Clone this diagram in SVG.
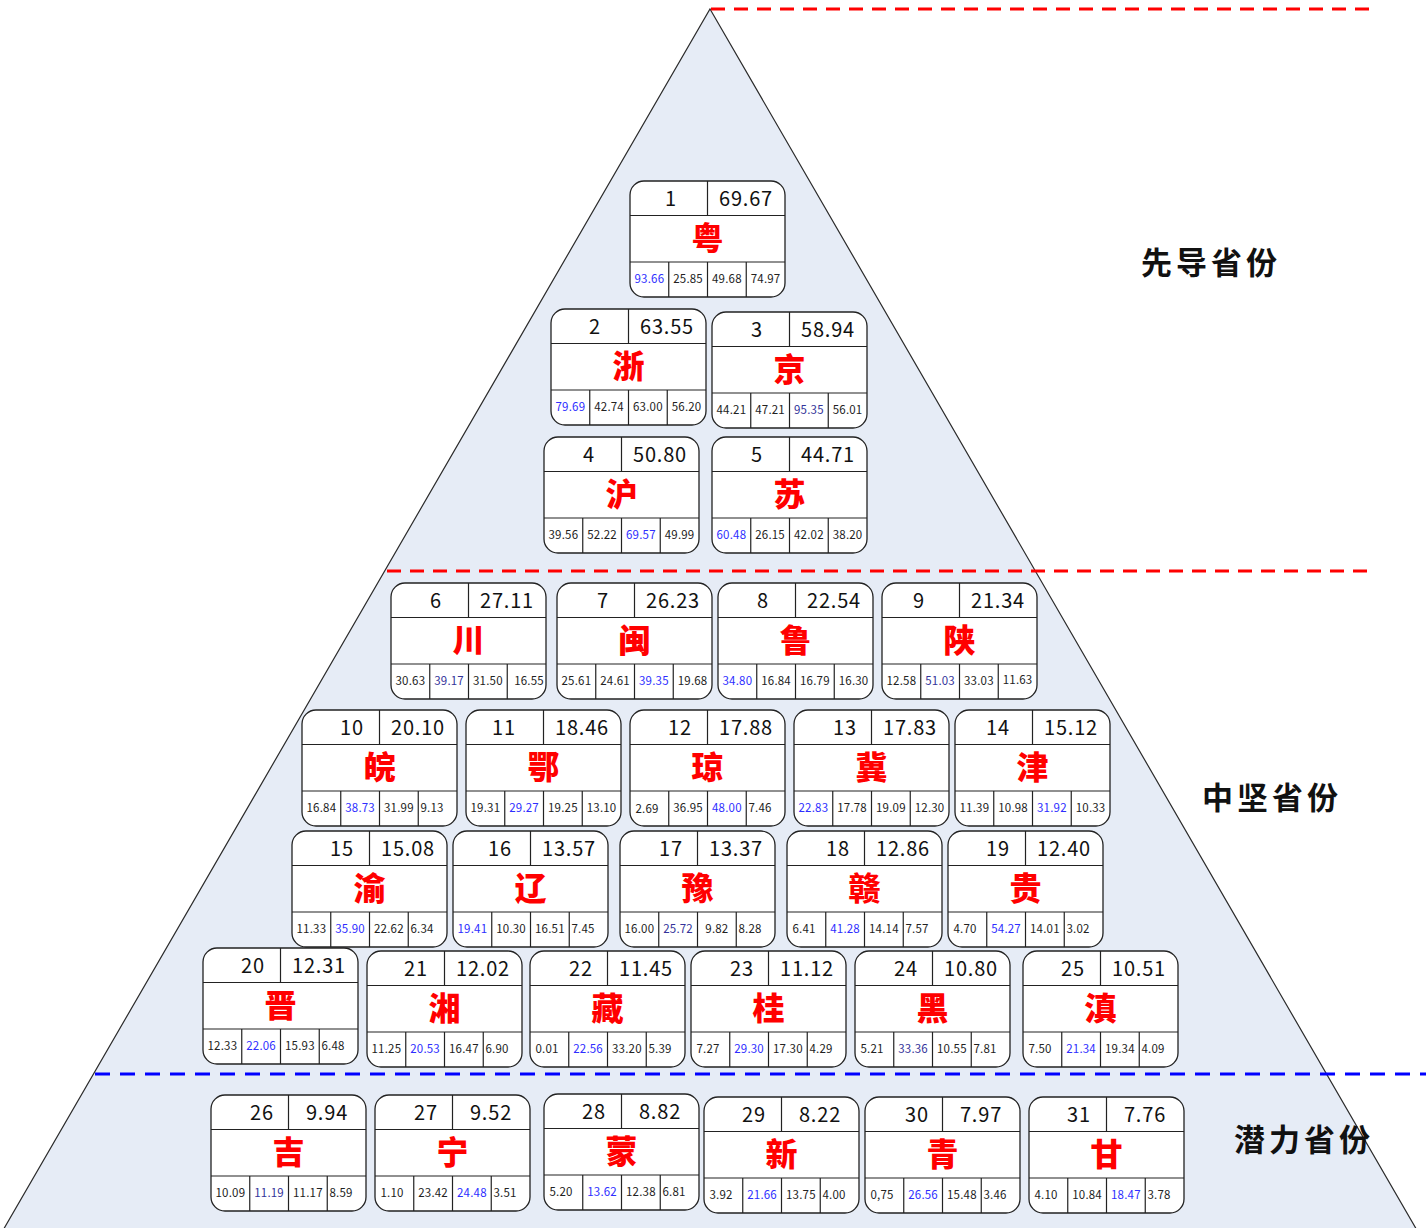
<svg xmlns="http://www.w3.org/2000/svg" xmlns:xlink="http://www.w3.org/1999/xlink" width="1426" height="1228" viewBox="0 0 1426 1228">
<style>
.tri{fill:#e6ecf6;stroke:#2b2b2b;stroke-width:1.2}
.frame rect{fill:#fff;stroke:#222;stroke-width:1.3}
.frame line{stroke:#222;stroke-width:1.2}
.n{font-family:"Noto Sans CJK SC","Liberation Sans",sans-serif;font-size:20px;fill:#111;text-anchor:middle;letter-spacing:0.8px}
.c{font-family:"Noto Sans CJK SC",sans-serif;font-size:32px;font-weight:900;fill:#f00;text-anchor:middle}
.s{font-family:"Noto Sans CJK SC","Liberation Sans",sans-serif;font-size:11.5px;fill:#222;text-anchor:middle;letter-spacing:0.2px}
.b{fill:#2e2eff}
.d{fill:#33339a}
.lab{font-family:"Noto Sans CJK SC",sans-serif;font-size:31px;font-weight:700;fill:#111;letter-spacing:4px}
.dr{stroke:#f00;stroke-width:3;stroke-dasharray:14 9;fill:none}
.db{stroke:#00f;stroke-width:3;stroke-dasharray:15 10;fill:none}
</style>
<defs>
<g id="card" class="frame">
<rect x="0" y="0" width="155" height="116" rx="14" ry="14"/>
<line x1="0" y1="34.5" x2="155" y2="34.5"/>
<line x1="0" y1="81" x2="155" y2="81"/>
<line x1="77.5" y1="0" x2="77.5" y2="34.5"/>
<line x1="38.75" y1="81" x2="38.75" y2="116"/>
<line x1="77.5" y1="81" x2="77.5" y2="116"/>
<line x1="116.25" y1="81" x2="116.25" y2="116"/>
</g>
</defs>
<rect x="0" y="0" width="1426" height="1228" fill="#fff"/>
<polygon class="tri" points="710,9 1418,1232 2,1232"/>
<g id="connectors">
<line class="dr" x1="711" y1="9" x2="1370" y2="9"/>
<line class="dr" x1="387" y1="571" x2="1376" y2="571"/>
<line class="db" x1="95" y1="1074" x2="1426" y2="1074"/>
</g>
<g id="labels">
<text class="lab" x="1141" y="274">先导省份</text>
<text class="lab" x="1202" y="809">中坚省份</text>
<text class="lab" x="1234" y="1151">潜力省份</text>
</g>
<g id="p1" transform="translate(630,181)"><use xlink:href="#card"/><text class="n" x="41" y="25">1</text><text class="n" x="116" y="25">69.67</text><text class="c" x="77.5" y="69">粤</text><text class="s b" x="19.4" y="102">93.66</text><text class="s" x="58.1" y="102">25.85</text><text class="s" x="96.9" y="102">49.68</text><text class="s" x="135.6" y="102">74.97</text></g>
<g id="p2" transform="translate(551,309)"><use xlink:href="#card"/><text class="n" x="44" y="25">2</text><text class="n" x="116" y="25">63.55</text><text class="c" x="77.5" y="69">浙</text><text class="s b" x="19.4" y="102">79.69</text><text class="s" x="58.1" y="102">42.74</text><text class="s" x="96.9" y="102">63.00</text><text class="s" x="135.6" y="102">56.20</text></g>
<g id="p3" transform="translate(712,312)"><use xlink:href="#card"/><text class="n" x="45" y="25">3</text><text class="n" x="116" y="25">58.94</text><text class="c" x="77.5" y="69">京</text><text class="s" x="19.4" y="102">44.21</text><text class="s" x="58.1" y="102">47.21</text><text class="s d" x="96.9" y="102">95.35</text><text class="s" x="135.6" y="102">56.01</text></g>
<g id="p4" transform="translate(544,437)"><use xlink:href="#card"/><text class="n" x="45" y="25">4</text><text class="n" x="116" y="25">50.80</text><text class="c" x="77.5" y="69">沪</text><text class="s" x="19.4" y="102">39.56</text><text class="s" x="58.1" y="102">52.22</text><text class="s b" x="96.9" y="102">69.57</text><text class="s" x="135.6" y="102">49.99</text></g>
<g id="p5" transform="translate(712,437)"><use xlink:href="#card"/><text class="n" x="45" y="25">5</text><text class="n" x="116" y="25">44.71</text><text class="c" x="77.5" y="69">苏</text><text class="s b" x="19.4" y="102">60.48</text><text class="s" x="58.1" y="102">26.15</text><text class="s" x="96.9" y="102">42.02</text><text class="s" x="135.6" y="102">38.20</text></g>
<g id="p6" transform="translate(391,583)"><use xlink:href="#card"/><text class="n" x="45" y="25">6</text><text class="n" x="116" y="25">27.11</text><text class="c" x="77.5" y="69">川</text><text class="s" x="19.4" y="102">30.63</text><text class="s d" x="58.1" y="102">39.17</text><text class="s" x="96.9" y="102">31.50</text><text class="s" x="138" y="102">16.55</text></g>
<g id="p7" transform="translate(557,583)"><use xlink:href="#card"/><text class="n" x="46" y="25">7</text><text class="n" x="116" y="25">26.23</text><text class="c" x="77.5" y="69">闽</text><text class="s" x="19.4" y="102">25.61</text><text class="s" x="58.1" y="102">24.61</text><text class="s b" x="96.9" y="102">39.35</text><text class="s" x="135.6" y="102">19.68</text></g>
<g id="p8" transform="translate(718,583)"><use xlink:href="#card"/><text class="n" x="45" y="25">8</text><text class="n" x="116" y="25">22.54</text><text class="c" x="77.5" y="69">鲁</text><text class="s b" x="19.4" y="102">34.80</text><text class="s" x="58.1" y="102">16.84</text><text class="s" x="96.9" y="102">16.79</text><text class="s" x="135.6" y="102">16.30</text></g>
<g id="p9" transform="translate(882,583)"><use xlink:href="#card"/><text class="n" x="37" y="25">9</text><text class="n" x="116" y="25">21.34</text><text class="c" x="77.5" y="69">陕</text><text class="s" x="19.4" y="102">12.58</text><text class="s d" x="58.1" y="102">51.03</text><text class="s" x="96.9" y="102">33.03</text><text class="s" x="135.6" y="101">11.63</text></g>
<g id="p10" transform="translate(302,710)"><use xlink:href="#card"/><text class="n" x="50" y="25">10</text><text class="n" x="116" y="25">20.10</text><text class="c" x="77.5" y="69">皖</text><text class="s" x="19.4" y="102">16.84</text><text class="s b" x="58.1" y="102">38.73</text><text class="s" x="96.9" y="102">31.99</text><text class="s" x="130" y="102">9.13</text></g>
<g id="p11" transform="translate(466,710)"><use xlink:href="#card"/><text class="n" x="38" y="25">11</text><text class="n" x="116" y="25">18.46</text><text class="c" x="77.5" y="69">鄂</text><text class="s" x="19.4" y="102">19.31</text><text class="s b" x="58.1" y="102">29.27</text><text class="s" x="96.9" y="102">19.25</text><text class="s" x="135.6" y="102">13.10</text></g>
<g id="p12" transform="translate(630,710)"><use xlink:href="#card"/><text class="n" x="50" y="25">12</text><text class="n" x="116" y="25">17.88</text><text class="c" x="77.5" y="69">琼</text><text class="s" x="17" y="103">2.69</text><text class="s" x="58.1" y="102">36.95</text><text class="s b" x="96.9" y="102">48.00</text><text class="s" x="130" y="102">7.46</text></g>
<g id="p13" transform="translate(794,710)"><use xlink:href="#card"/><text class="n" x="51" y="25">13</text><text class="n" x="116" y="25">17.83</text><text class="c" x="77.5" y="69">冀</text><text class="s b" x="19.4" y="102">22.83</text><text class="s" x="58.1" y="102">17.78</text><text class="s" x="96.9" y="102">19.09</text><text class="s" x="135.6" y="102">12.30</text></g>
<g id="p14" transform="translate(955,710)"><use xlink:href="#card"/><text class="n" x="43" y="25">14</text><text class="n" x="116" y="25">15.12</text><text class="c" x="77.5" y="69">津</text><text class="s" x="19.4" y="102">11.39</text><text class="s" x="58.1" y="102">10.98</text><text class="s b" x="96.9" y="102">31.92</text><text class="s" x="135.6" y="102">10.33</text></g>
<g id="p15" transform="translate(292,831)"><use xlink:href="#card"/><text class="n" x="50" y="25">15</text><text class="n" x="116" y="25">15.08</text><text class="c" x="77.5" y="69">渝</text><text class="s" x="19.4" y="102">11.33</text><text class="s b" x="58.1" y="102">35.90</text><text class="s" x="96.9" y="102">22.62</text><text class="s" x="130" y="102">6.34</text></g>
<g id="p16" transform="translate(453,831)"><use xlink:href="#card"/><text class="n" x="47" y="25">16</text><text class="n" x="116" y="25">13.57</text><text class="c" x="77.5" y="69">辽</text><text class="s b" x="19.4" y="102">19.41</text><text class="s" x="58.1" y="102">10.30</text><text class="s" x="96.9" y="102">16.51</text><text class="s" x="130" y="102">7.45</text></g>
<g id="p17" transform="translate(620,831)"><use xlink:href="#card"/><text class="n" x="51" y="25">17</text><text class="n" x="116" y="25">13.37</text><text class="c" x="77.5" y="69">豫</text><text class="s" x="19.4" y="102">16.00</text><text class="s d" x="58.1" y="102">25.72</text><text class="s" x="96.9" y="102">9.82</text><text class="s" x="130" y="102">8.28</text></g>
<g id="p18" transform="translate(787,831)"><use xlink:href="#card"/><text class="n" x="51" y="25">18</text><text class="n" x="116" y="25">12.86</text><text class="c" x="77.5" y="69">赣</text><text class="s" x="17" y="102">6.41</text><text class="s b" x="58.1" y="102">41.28</text><text class="s" x="96.9" y="102">14.14</text><text class="s" x="130" y="102">7.57</text></g>
<g id="p19" transform="translate(948,831)"><use xlink:href="#card"/><text class="n" x="50" y="25">19</text><text class="n" x="116" y="25">12.40</text><text class="c" x="77.5" y="69">贵</text><text class="s" x="17" y="102">4.70</text><text class="s b" x="58.1" y="102">54.27</text><text class="s" x="96.9" y="102">14.01</text><text class="s" x="130" y="102">3.02</text></g>
<g id="p20" transform="translate(203,948)"><use xlink:href="#card"/><text class="n" x="50" y="25">20</text><text class="n" x="116" y="25">12.31</text><text class="c" x="77.5" y="69">晋</text><text class="s" x="19.4" y="102">12.33</text><text class="s b" x="58.1" y="102">22.06</text><text class="s" x="96.9" y="102">15.93</text><text class="s" x="130" y="102">6.48</text></g>
<g id="p21" transform="translate(367,951)"><use xlink:href="#card"/><text class="n" x="49" y="25">21</text><text class="n" x="116" y="25">12.02</text><text class="c" x="77.5" y="69">湘</text><text class="s" x="19.4" y="102">11.25</text><text class="s b" x="58.1" y="102">20.53</text><text class="s" x="96.9" y="102">16.47</text><text class="s" x="130" y="102">6.90</text></g>
<g id="p22" transform="translate(530,951)"><use xlink:href="#card"/><text class="n" x="51" y="25">22</text><text class="n" x="116" y="25">11.45</text><text class="c" x="77.5" y="69">藏</text><text class="s" x="17" y="102">0.01</text><text class="s b" x="58.1" y="102">22.56</text><text class="s" x="96.9" y="102">33.20</text><text class="s" x="130" y="102">5.39</text></g>
<g id="p23" transform="translate(691,951)"><use xlink:href="#card"/><text class="n" x="51" y="25">23</text><text class="n" x="116" y="25">11.12</text><text class="c" x="77.5" y="69">桂</text><text class="s" x="17" y="102">7.27</text><text class="s b" x="58.1" y="102">29.30</text><text class="s" x="96.9" y="102">17.30</text><text class="s" x="130" y="102">4.29</text></g>
<g id="p24" transform="translate(855,951)"><use xlink:href="#card"/><text class="n" x="51" y="25">24</text><text class="n" x="116" y="25">10.80</text><text class="c" x="77.5" y="69">黑</text><text class="s" x="17" y="102">5.21</text><text class="s d" x="58.1" y="102">33.36</text><text class="s" x="96.9" y="102">10.55</text><text class="s" x="130" y="102">7.81</text></g>
<g id="p25" transform="translate(1023,951)"><use xlink:href="#card"/><text class="n" x="50" y="25">25</text><text class="n" x="116" y="25">10.51</text><text class="c" x="77.5" y="69">滇</text><text class="s" x="17" y="102">7.50</text><text class="s b" x="58.1" y="102">21.34</text><text class="s" x="96.9" y="102">19.34</text><text class="s" x="130" y="102">4.09</text></g>
<g id="p26" transform="translate(211,1095)"><use xlink:href="#card"/><text class="n" x="51" y="25">26</text><text class="n" x="116" y="25">9.94</text><text class="c" x="77.5" y="69">吉</text><text class="s" x="19.4" y="102">10.09</text><text class="s d" x="58.1" y="102">11.19</text><text class="s" x="96.9" y="102">11.17</text><text class="s" x="130" y="102">8.59</text></g>
<g id="p27" transform="translate(375,1095)"><use xlink:href="#card"/><text class="n" x="51" y="25">27</text><text class="n" x="116" y="25">9.52</text><text class="c" x="77.5" y="69">宁</text><text class="s" x="17" y="102">1.10</text><text class="s" x="58.1" y="102">23.42</text><text class="s b" x="96.9" y="102">24.48</text><text class="s" x="130" y="102">3.51</text></g>
<g id="p28" transform="translate(544,1094)"><use xlink:href="#card"/><text class="n" x="50" y="25">28</text><text class="n" x="116" y="25">8.82</text><text class="c" x="77.5" y="69">蒙</text><text class="s" x="17" y="102">5.20</text><text class="s b" x="58.1" y="102">13.62</text><text class="s" x="96.9" y="102">12.38</text><text class="s" x="130" y="102">6.81</text></g>
<g id="p29" transform="translate(704,1097)"><use xlink:href="#card"/><text class="n" x="50" y="25">29</text><text class="n" x="116" y="25">8.22</text><text class="c" x="77.5" y="69">新</text><text class="s" x="17" y="102">3.92</text><text class="s b" x="58.1" y="102">21.66</text><text class="s" x="96.9" y="102">13.75</text><text class="s" x="130" y="102">4.00</text></g>
<g id="p30" transform="translate(865,1097)"><use xlink:href="#card"/><text class="n" x="52" y="25">30</text><text class="n" x="116" y="25">7.97</text><text class="c" x="77.5" y="69">青</text><text class="s" x="17" y="102">0,75</text><text class="s b" x="58.1" y="102">26.56</text><text class="s" x="96.9" y="102">15.48</text><text class="s" x="130" y="102">3.46</text></g>
<g id="p31" transform="translate(1029,1097)"><use xlink:href="#card"/><text class="n" x="50" y="25">31</text><text class="n" x="116" y="25">7.76</text><text class="c" x="77.5" y="69">甘</text><text class="s" x="17" y="102">4.10</text><text class="s" x="58.1" y="102">10.84</text><text class="s b" x="96.9" y="102">18.47</text><text class="s" x="130" y="102">3.78</text></g>
</svg>
